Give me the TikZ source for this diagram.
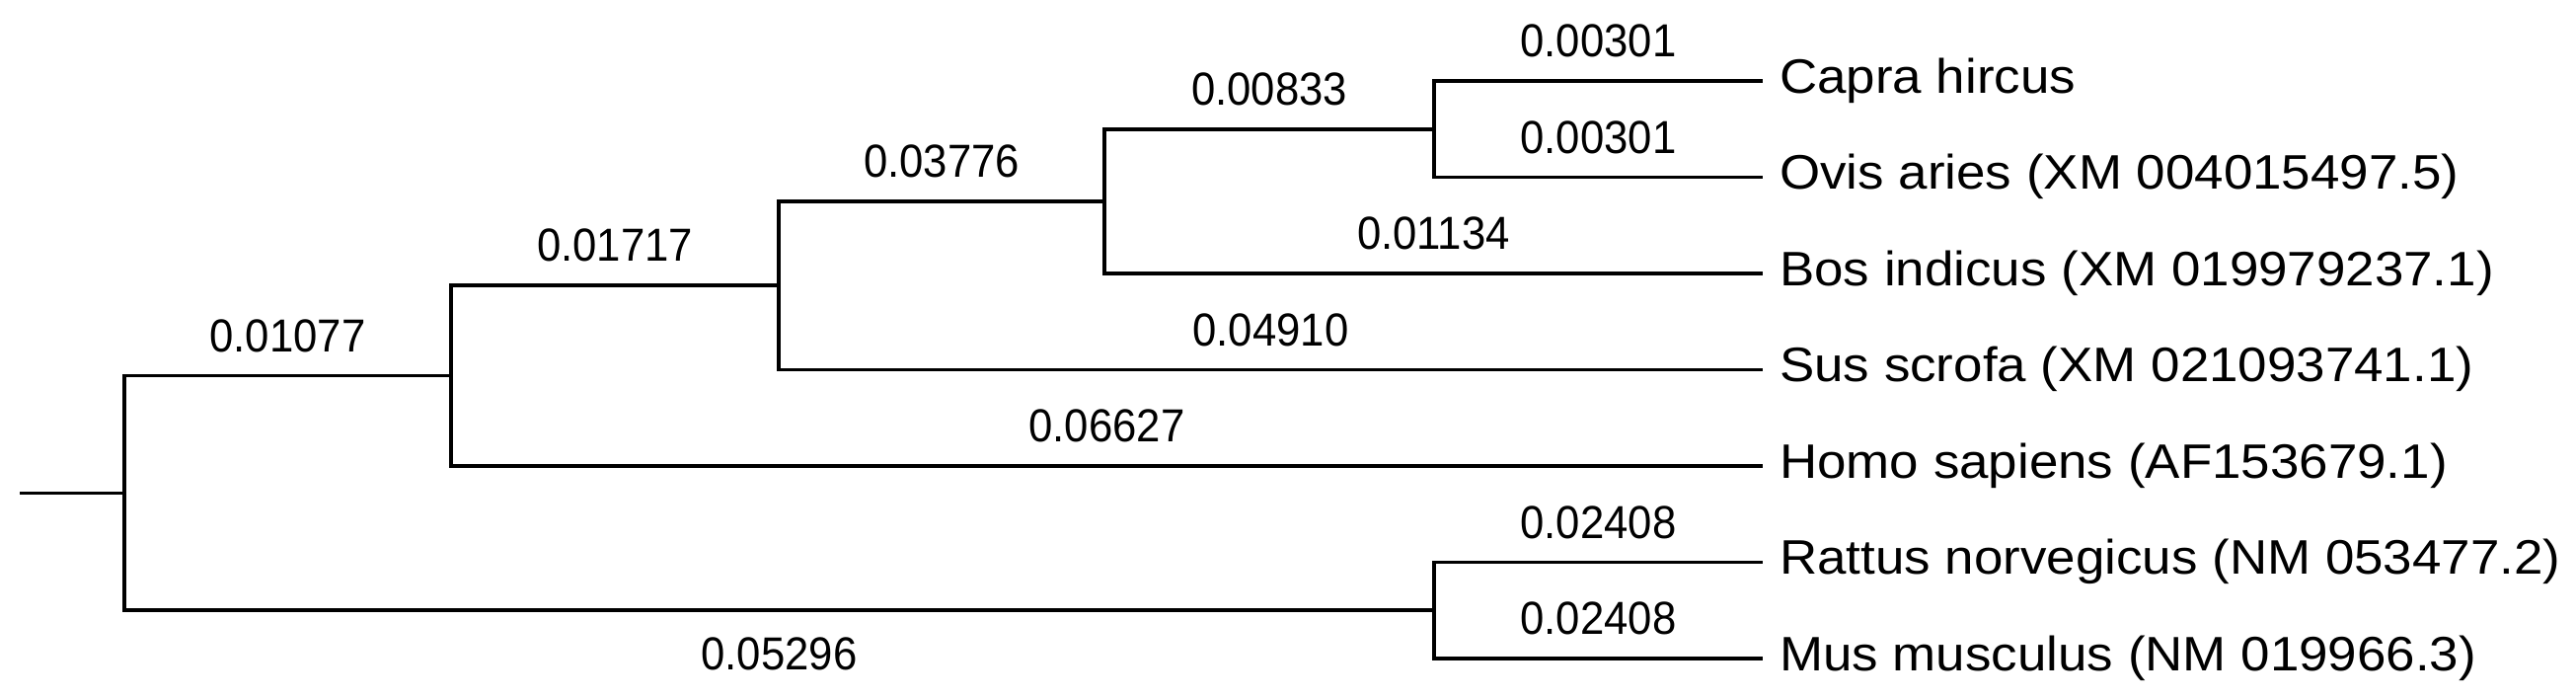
\documentclass[tikz,border=0pt]{standalone}
\usepackage{fontspec}
\setmainfont{Liberation Sans}
\begin{document}
\begin{tikzpicture}[x=1pt,y=-1pt,
  branch/.style={line width=3.6pt, line join=miter, line cap=butt},
  blen/.style={inner sep=0pt, font=\fontsize{46}{50}\selectfont},
  leaf/.style={inner sep=0pt, anchor=base west, font=\fontsize{49}{54}\selectfont}
]
\useasboundingbox (0,0) rectangle (2610,707);
\newcommand{\lbl}[1]{\scalebox{0.95}[1.02]{#1}}
\newcommand{\lf}[1]{\scalebox{1.08}[1]{#1}}
% internal nodes
\coordinate (stub) at (20,499.4);
\coordinate (root) at (126,499.4);
\coordinate (A) at (457,380.6);
\coordinate (B) at (789,289.2);
\coordinate (C) at (1119,203.9);
\coordinate (D) at (1453,130.75);
\coordinate (E) at (1453,618.25);
% tips
\coordinate (tcapra) at (1786,82);
\coordinate (tovis) at (1786,179.5);
\coordinate (tbos) at (1786,277);
\coordinate (tsus) at (1786,374.5);
\coordinate (thomo) at (1786,472);
\coordinate (trat) at (1786,569.5);
\coordinate (tmus) at (1786,667);
% leaf labels
\node[leaf] (capra) at (1803,94) {\lf{Capra hircus}};
\node[leaf] (ovis) at (1803,191.5) {\lf{Ovis aries (XM 004015497.5)}};
\node[leaf] (bos) at (1803,289) {\lf{Bos indicus (XM 019979237.1)}};
\node[leaf] (sus) at (1803,386.5) {\lf{Sus scrofa (XM 021093741.1)}};
\node[leaf] (homo) at (1803,484) {\lf{Homo sapiens (AF153679.1)}};
\node[leaf] (rat) at (1803,581.5) {\lf{Rattus norvegicus (NM 053477.2)}};
\node[leaf] (mus) at (1803,679) {\lf{Mus musculus (NM 019966.3)}};
% branches
\draw[branch] (stub) -- (root);
\draw[branch] (root) |- node[blen, pos=0.75, above=22pt] {\lbl{0.01077}} (A);
\draw[branch] (root) |- node[blen, pos=0.75, below=26pt] {\lbl{0.05296}} (E);
\draw[branch] (A) |- node[blen, pos=0.75, above=22pt] {\lbl{0.01717}} (B);
\draw[branch] (A) |- node[blen, pos=0.75, above=22pt] {\lbl{0.06627}} (thomo);
\draw[branch] (B) |- node[blen, pos=0.75, above=22pt] {\lbl{0.03776}} (C);
\draw[branch] (B) |- node[blen, pos=0.75, above=22pt] {\lbl{0.04910}} (tsus);
\draw[branch] (C) |- node[blen, pos=0.75, above=22pt] {\lbl{0.00833}} (D);
\draw[branch] (C) |- node[blen, pos=0.75, above=22pt] {\lbl{0.01134}} (tbos);
\draw[branch] (D) |- node[blen, pos=0.75, above=22pt] {\lbl{0.00301}} (tcapra);
\draw[branch] (D) |- node[blen, pos=0.75, above=22pt] {\lbl{0.00301}} (tovis);
\draw[branch] (E) |- node[blen, pos=0.75, above=22pt] {\lbl{0.02408}} (trat);
\draw[branch] (E) |- node[blen, pos=0.75, above=22pt] {\lbl{0.02408}} (tmus);
\end{tikzpicture}
\end{document}
